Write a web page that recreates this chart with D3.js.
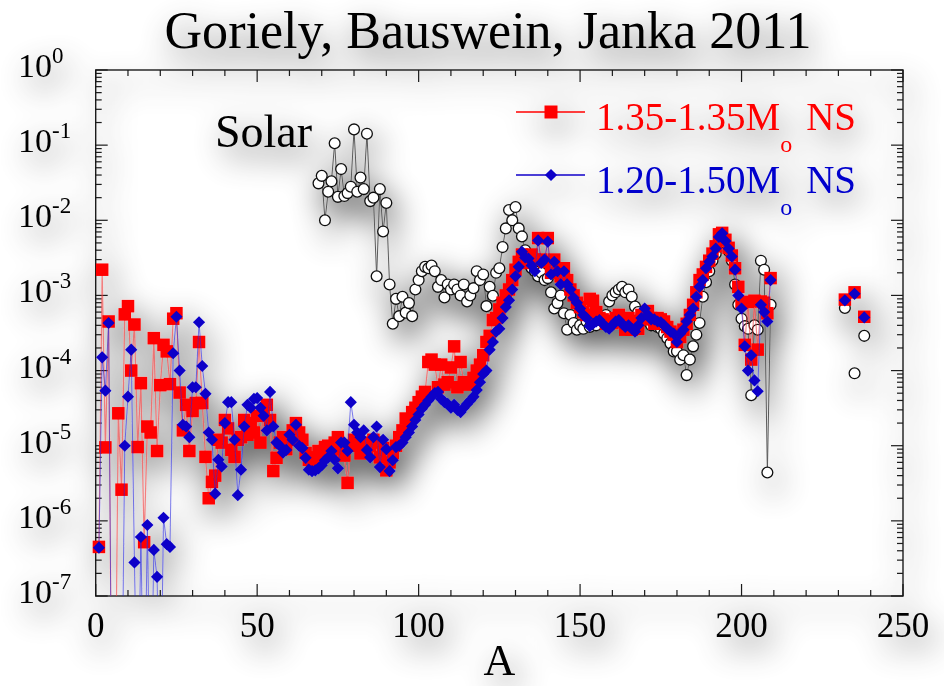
<!DOCTYPE html>
<html>
<head>
<meta charset="utf-8">
<script src="https://cdn.jsdelivr.net/npm/d3@7"></script>
<style>
  html, body { margin: 0; padding: 0; background: #ffffff; }
  svg { display: block; }
</style>
</head>
<body>
<svg id="chart" width="944" height="686"></svg>
<script>
// ---- data -----------------------------------------------------------------
// mass numbers of the two merger models: A = 1..209, then three heavy nuclei
const nsMassNumbers = [...d3.range(1, 210), 232, 235, 238];

// 1.35-1.35 Msun neutron-star merger (1e-9 marks yields below the plotted range)
const ns135 = [
  4.5e-7, 2.2e-3, 9.5e-6, 4.5e-4, 1e-9, 1e-9, 2.7e-5, 2.6e-6, 5.6e-4, 7.2e-4,     // 1-10
  1.0e-4, 4.1e-4, 9.6e-6, 6.8e-5, 5.2e-7, 1.8e-5, 1.5e-5, 2.7e-4, 8.5e-6, 6.4e-5, // 11-20
  2.2e-4, 1.8e-4, 6.6e-5, 4.9e-4, 5.8e-4, 5.1e-5, 1.6e-5, 3.5e-5, 8.5e-6, 2.9e-5, // 21-30
  3.7e-5, 2.4e-4, 3.7e-5, 7.1e-6, 2.0e-6, 3.3e-6, 4.0e-6, 1.2e-5, 1.1e-5, 2.2e-5, // 31-40
  1.7e-5, 8.8e-6, 7.1e-6, 1.2e-5, 1.3e-5, 2.2e-5, 1.4e-5, 2.0e-5, 1.5e-5, 2.5e-5, // 41-50
  1.1e-5, 2.8e-5, 3.5e-5, 2.2e-5, 4.6e-6, 6.9e-6, 1.1e-5, 1.3e-5, 9.0e-6, 1.2e-5, // 51-60
  1.6e-5, 2.0e-5, 1.5e-5, 1.2e-5, 8.0e-6, 6.5e-6, 6.1e-6, 7.0e-6, 8.5e-6, 7.5e-6, // 61-70
  9.6e-6, 1.0e-5, 8.0e-6, 1.1e-5, 1.3e-5, 9.0e-6, 7.4e-6, 3.2e-6, 1.0e-5, 1.2e-5, // 71-80
  1.0e-5, 7.9e-6, 1.1e-5, 9.0e-6, 1.0e-5, 1.2e-5, 1.1e-5, 7.0e-6, 9.3e-6, 4.7e-6, // 81-90
  6.0e-6, 8.0e-6, 1.0e-5, 1.3e-5, 1.6e-5, 2.3e-5, 2.2e-5, 2.8e-5, 3.2e-5, 3.8e-5, // 91-100
  4.5e-5, 5.2e-5, 1.3e-4, 1.4e-4, 1.2e-4, 6.0e-5, 1.2e-4, 6.5e-5, 7.0e-5, 1.1e-4, // 101-110
  2.1e-4, 6.0e-5, 1.3e-4, 7.0e-5, 6.5e-5, 7.0e-5, 8.0e-5, 1.0e-4, 1.2e-4, 1.6e-4, // 111-120
  2.4e-4, 2.9e-4, 4.7e-4, 5.0e-4, 6.5e-4, 8.0e-4, 1.0e-3, 1.2e-3, 1.6e-3, 2.2e-3, // 121-130
  2.8e-3, 3.5e-3, 3.0e-3, 2.7e-3, 3.5e-3, 3.0e-3, 5.8e-3, 3.0e-3, 2.8e-3, 5.8e-3, // 131-140
  2.0e-3, 3.0e-3, 2.2e-3, 1.8e-3, 2.3e-3, 1.6e-3, 1.2e-3, 1.0e-3, 8.0e-4, 7.0e-4, // 141-150
  6.0e-4, 5.5e-4, 9.0e-4, 8.5e-4, 6.0e-4, 5.0e-4, 4.8e-4, 4.2e-4, 4.6e-4, 4.3e-4, // 151-160
  5.0e-4, 5.5e-4, 4.5e-4, 3.5e-4, 5.0e-4, 3.5e-4, 4.5e-4, 3.6e-4, 5.5e-4, 4.8e-4, // 161-170
  6.2e-4, 5.0e-4, 4.2e-4, 5.0e-4, 4.8e-4, 4.5e-4, 3.8e-4, 3.3e-4, 3.0e-4, 2.4e-4, // 171-180
  2.8e-4, 3.5e-4, 4.2e-4, 5.5e-4, 7.5e-4, 1.1e-3, 1.6e-3, 1.9e-3, 2.4e-3, 2.9e-3, // 181-190
  3.6e-3, 4.5e-3, 6.5e-3, 6.8e-3, 5.5e-3, 4.3e-3, 3.4e-3, 2.3e-3, 1.3e-3, 8.0e-4, // 191-200
  2.2e-4, 8.2e-4, 1.4e-4, 8.5e-4, 1.9e-4, 8.3e-4, 8.0e-4, 5.8e-4, 1.7e-3,         // 201-209
  8.8e-4, 1.1e-3, 5.2e-4                                                          // 232, 235, 238
];

// 1.20-1.50 Msun neutron-star merger
const ns120 = [
  4.4e-7, 1.5e-4, 5.4e-5, 4.3e-4, 1e-9, 1e-9, 1e-9, 1e-9, 1.0e-5, 4.5e-5,         // 1-10
  1.9e-4, 2.8e-7, 1e-9, 6.1e-7, 1e-9, 8.8e-7, 1e-9, 4.1e-7, 1.8e-7, 1e-9,         // 11-20
  1.1e-6, 4.9e-7, 4.5e-7, 1.7e-4, 5.2e-4, 1.0e-4, 1.9e-5, 1.8e-5, 1.3e-5, 6.0e-5, // 21-30
  6.0e-5, 4.4e-4, 1.15e-4, 4.9e-5, 1.5e-5, 1.2e-5, 2.3e-6, 6.5e-6, 5.3e-6, 2.0e-5,// 31-40
  3.8e-5, 3.8e-5, 1.2e-5, 2.2e-6, 4.8e-6, 1.8e-5, 3.5e-5, 3.2e-5, 4.2e-5, 4.3e-5, // 41-50
  3.2e-5, 2.5e-5, 1.6e-5, 5.2e-5, 1.8e-5, 1.1e-5, 1.0e-5, 8.1e-6, 8.8e-6, 1.4e-5, // 51-60
  1.2e-5, 1.9e-5, 1.0e-5, 9.3e-6, 6.9e-6, 4.8e-6, 4.6e-6, 4.7e-6, 5.0e-6, 5.5e-6, // 61-70
  6.4e-6, 7.0e-6, 8.5e-6, 6.5e-6, 5.0e-6, 1.1e-5, 1.1e-5, 8.5e-6, 3.8e-5, 1.9e-5, // 71-80
  1.5e-5, 1.3e-5, 1.6e-5, 8.8e-6, 7.0e-6, 1.3e-5, 1.8e-5, 5.2e-6, 1.2e-5, 9.0e-6, // 81-90
  4.6e-6, 6.4e-6, 9.6e-6, 1.0e-5, 1.1e-5, 1.3e-5, 1.5e-5, 1.8e-5, 2.2e-5, 2.6e-5, // 91-100
  3.1e-5, 3.5e-5, 4.0e-5, 4.5e-5, 5.0e-5, 5.2e-5, 4.2e-5, 3.8e-5, 3.6e-5, 3.2e-5, // 101-110
  3.5e-5, 3.0e-5, 2.8e-5, 3.2e-5, 3.6e-5, 4.0e-5, 4.5e-5, 5.5e-5, 7.0e-5, 9.0e-5, // 111-120
  1.0e-4, 1.9e-4, 2.4e-4, 3.3e-4, 3.6e-4, 5.0e-4, 7.0e-4, 8.6e-4, 1.2e-3, 1.8e-3, // 121-130
  2.4e-3, 3.8e-3, 3.2e-3, 3.1e-3, 2.5e-3, 2.1e-3, 5.4e-3, 2.7e-3, 3.0e-3, 5.2e-3, // 131-140
  1.9e-3, 2.8e-3, 2.1e-3, 1.4e-3, 2.1e-3, 1.4e-3, 1.2e-3, 9.3e-4, 8.0e-4, 6.7e-4, // 141-150
  5.5e-4, 5.0e-4, 3.9e-4, 4.2e-4, 4.5e-4, 4.7e-4, 4.2e-4, 3.8e-4, 3.6e-4, 4.0e-4, // 151-160
  4.5e-4, 4.7e-4, 4.2e-4, 3.8e-4, 4.0e-4, 3.6e-4, 3.3e-4, 4.0e-4, 5.0e-4, 6.7e-4, // 161-170
  5.5e-4, 4.8e-4, 4.8e-4, 4.5e-4, 4.4e-4, 4.0e-4, 3.6e-4, 3.3e-4, 3.1e-4, 2.4e-4, // 171-180
  3.1e-4, 3.5e-4, 4.5e-4, 5.5e-4, 6.7e-4, 9.6e-4, 1.3e-3, 1.6e-3, 2.3e-3, 2.8e-3, // 181-190
  3.3e-3, 4.2e-3, 6.0e-3, 6.7e-3, 5.3e-3, 4.2e-3, 3.3e-3, 2.2e-3, 1.0e-3, 6.7e-4, // 191-200
  2.1e-4, 1.0e-4, 1.6e-4, 7.4e-5, 5.3e-5, 7.5e-4, 6.0e-4, 4.5e-4, 1.6e-3,         // 201-209
  8.6e-4, 1.05e-3, 5.1e-4                                                         // 232, 235, 238
];

// solar-system r-process abundances
const solarMassNumbers = [...d3.range(69, 210), 232, 235, 238];
const solar = [
  3.1e-2, 3.9e-2, 1.0e-2, 2.4e-2, 3.3e-2, 1.06e-1, 2.05e-2, 4.8e-2, 2.1e-2, 2.3e-2, // 69-78
  2.8e-2, 1.62e-1, 2.4e-2, 3.7e-2, 2.6e-2, 1.42e-1, 1.8e-2, 2.0e-2, 1.8e-3, 2.6e-2, // 79-88
  7.1e-3, 1.7e-2, 1.4e-3, 4.2e-4, 9.0e-4, 5.3e-4, 9.6e-4, 5.9e-4, 7.9e-4, 5.3e-4,   // 89-98
  1.2e-3, 1.6e-3, 2.1e-3, 2.4e-3, 2.3e-3, 2.5e-3, 2.1e-3, 1.3e-3, 1.6e-3, 9.4e-4,   // 99-108
  1.4e-3, 1.2e-3, 1.4e-3, 1.2e-3, 1.0e-3, 1.4e-3, 8.3e-4, 1.0e-3, 1.25e-3, 2.1e-3,  // 109-118
  1.6e-3, 1.9e-3, 7.2e-4, 1.3e-3, 9.9e-4, 2.0e-3, 2.3e-3, 4.4e-3, 7.8e-3, 1.37e-2,  // 119-128
  1.0e-2, 1.5e-2, 7.8e-3, 6.1e-3, 4.0e-3, 2.6e-3, 2.3e-3, 2.1e-3, 1.8e-3, 2.0e-3,   // 129-138
  1.6e-3, 1.7e-3, 1.1e-3, 6.7e-4, 7.9e-4, 1.0e-3, 5.8e-4, 3.5e-4, 5.5e-4, 4.3e-4,   // 139-148
  3.5e-4, 4.0e-4, 3.6e-4, 4.5e-4, 3.8e-4, 4.2e-4, 4.0e-4, 5.0e-4, 4.5e-4, 5.5e-4,   // 149-158
  8.3e-4, 1.0e-3, 1.1e-3, 1.2e-3, 1.3e-3, 1.1e-3, 1.2e-3, 9.6e-4, 7.1e-4, 6.0e-4,   // 159-168
  5.5e-4, 5.0e-4, 4.5e-4, 4.0e-4, 4.2e-4, 3.8e-4, 3.6e-4, 3.1e-4, 2.7e-4, 2.3e-4,   // 169-178
  1.8e-4, 1.8e-4, 1.4e-4, 1.6e-4, 8.7e-5, 1.4e-4, 2.1e-4, 3.0e-4, 4.3e-4, 9.6e-4,   // 179-188
  1.5e-3, 2.1e-3, 2.9e-3, 3.6e-3, 5.0e-3, 5.8e-3, 5.0e-3, 3.9e-3, 2.9e-3, 1.4e-3,   // 189-198
  7.5e-4, 4.9e-4, 3.9e-4, 3.6e-4, 4.7e-5, 4.0e-4, 3.5e-4, 2.9e-3, 2.2e-3, 4.4e-6, 7.5e-4, // 199-209
  6.8e-4, 9.2e-5, 2.9e-4                                                            // 232, 235, 238
];

const xTickLabels = [0, 50, 100, 150, 200, 250];
const yDecades = [-7, -6, -5, -4, -3, -2, -1, 0];

// ---- layout ---------------------------------------------------------------
const serif = "'Liberation Serif', 'Times New Roman', 'DejaVu Serif', serif";
const svg = d3.select("#chart");
const plot = { left: 95.7, right: 903, top: 70, bottom: 596 };

const x = d3.scaleLinear().domain([0, 250]).range([plot.left, plot.right]);
const y = d3.scaleLog().domain([1e-7, 1]).range([plot.bottom, plot.top]);

const defs = svg.append("defs");
defs.append("clipPath").attr("id", "plot-clip")
  .append("rect")
  .attr("x", plot.left).attr("y", plot.top)
  .attr("width", plot.right - plot.left).attr("height", plot.bottom - plot.top);

// soft drop shadow under everything drawn
const haze = defs.append("filter").attr("id", "haze")
  .attr("filterUnits", "userSpaceOnUse")
  .attr("x", -60).attr("y", -60).attr("width", 1070).attr("height", 810);
haze.append("feGaussianBlur").attr("in", "SourceAlpha").attr("stdDeviation", 16);
haze.append("feOffset").attr("dx", 6).attr("dy", 12).attr("result", "off");
haze.append("feComponentTransfer").call(ct =>
  ct.append("feFuncA").attr("type", "linear").attr("slope", 0.75));
const merge = haze.append("feMerge");
merge.append("feMergeNode");
merge.append("feMergeNode").attr("in", "SourceGraphic");

svg.append("rect").attr("width", 944).attr("height", 686).attr("fill", "#fff");
const root = svg.append("g").attr("filter", "url(#haze)");

// ---- title ----------------------------------------------------------------
root.append("text")
  .attr("x", 488).attr("y", 48)
  .attr("text-anchor", "middle")
  .attr("font-family", serif).attr("font-size", 52)
  .attr("textLength", 647).attr("lengthAdjust", "spacingAndGlyphs")
  .attr("fill", "#000")
  .text("Goriely, Bauswein, Janka 2011");

// ---- frame and ticks ------------------------------------------------------
const axisColor = "#1a1a1a";
const frame = root.append("g");
frame.append("rect")
  .attr("x", plot.left).attr("y", plot.top)
  .attr("width", plot.right - plot.left).attr("height", plot.bottom - plot.top)
  .attr("fill", "none").attr("stroke", axisColor).attr("stroke-width", 1.4);

const xTicks = d3.range(0, 251, 10);
xTicks.forEach(t => {
  const major = t % 50 === 0;
  const len = major ? 12 : 6;
  frame.append("line")
    .attr("x1", x(t)).attr("x2", x(t))
    .attr("y1", plot.bottom).attr("y2", plot.bottom - len)
    .attr("stroke", axisColor).attr("stroke-width", 1.2);
  frame.append("line")
    .attr("x1", x(t)).attr("x2", x(t))
    .attr("y1", plot.top).attr("y2", plot.top + len)
    .attr("stroke", axisColor).attr("stroke-width", 1.2);
});

y.ticks().forEach(t => {
  const lg = Math.log10(t);
  const major = Math.abs(lg - Math.round(lg)) < 1e-9;
  const len = major ? 12 : 6;
  frame.append("line")
    .attr("x1", plot.left).attr("x2", plot.left + len)
    .attr("y1", y(t)).attr("y2", y(t))
    .attr("stroke", axisColor).attr("stroke-width", 1.2);
  frame.append("line")
    .attr("x1", plot.right).attr("x2", plot.right - len)
    .attr("y1", y(t)).attr("y2", y(t))
    .attr("stroke", axisColor).attr("stroke-width", 1.2);
});

// tick labels
xTickLabels.forEach(v => {
  root.append("text")
    .attr("x", x(v)).attr("y", 637)
    .attr("text-anchor", "middle")
    .attr("font-family", serif).attr("font-size", 35)
    .attr("fill", "#000")
    .text(v);
});

yDecades.forEach(d => {
  const t = root.append("text")
    .attr("x", 18).attr("y", y(Math.pow(10, d)) + 7)
    .attr("font-family", serif).attr("font-size", 34)
    .attr("fill", "#000");
  t.append("tspan").text("10");
  t.append("tspan").attr("dy", -14).attr("font-size", 23)
    .text(d === 0 ? "0" : "-" + Math.abs(d));
});

// axis title
root.append("text")
  .attr("x", x(125)).attr("y", 675)
  .attr("text-anchor", "middle")
  .attr("font-family", serif).attr("font-size", 44)
  .attr("fill", "#000")
  .text("A");

// "Solar" annotation
root.append("text")
  .attr("x", 215).attr("y", 147)
  .attr("font-family", serif).attr("font-size", 46)
  .attr("fill", "#000")
  .text("Solar");

// ---- series ---------------------------------------------------------------
function toPoints(massNumbers, values) {
  return massNumbers.map((a, i) => ({ a, v: values[i] }));
}
// consecutive mass numbers are joined; gaps break the line
function segments(points) {
  const out = [];
  let cur = [];
  points.forEach((p, i) => {
    if (i > 0 && p.a - points[i - 1].a > 1) { out.push(cur); cur = []; }
    cur.push(p);
  });
  if (cur.length) out.push(cur);
  return out.filter(s => s.length > 1);
}
const inRange = p => p.v >= 1e-7 && p.v <= 1;
const line = d3.line().x(p => x(p.a)).y(p => y(Math.max(p.v, 1e-10)));

const solarPts = toPoints(solarMassNumbers, solar);
const redPts = toPoints(nsMassNumbers, ns135);
const bluePts = toPoints(nsMassNumbers, ns120);

const data = root.append("g");

function drawLines(points, color, width) {
  data.append("g").attr("clip-path", "url(#plot-clip)")
    .selectAll("path").data(segments(points)).join("path")
    .attr("d", line)
    .attr("fill", "none")
    .attr("stroke", color).attr("stroke-width", width)
    .attr("stroke-linejoin", "round");
}

// solar: open circles on a thin grey line
drawLines(solarPts, "#5a5a5a", 1);
data.append("g").selectAll("circle").data(solarPts.filter(inRange)).join("circle")
  .attr("cx", p => x(p.a)).attr("cy", p => y(p.v)).attr("r", 5.4)
  .attr("fill", "#fff").attr("stroke", "#111").attr("stroke-width", 1.3);

// 1.35-1.35: red squares
const redColor = "#ff0000";
drawLines(redPts, "rgba(240,60,60,0.6)", 1.2);
const sq = 12.5;
data.append("g").selectAll("rect").data(redPts.filter(inRange)).join("rect")
  .attr("x", p => x(p.a) - sq / 2).attr("y", p => y(p.v) - sq / 2)
  .attr("width", sq).attr("height", sq)
  .attr("fill", redColor);

// 1.20-1.50: blue diamonds
const blueColor = "#0a00c8";
drawLines(bluePts, "rgba(40,40,220,0.6)", 1);
const diamond = d3.symbol().type(d3.symbolSquare).size(8.6 * 8.6);
data.append("g").selectAll("path").data(bluePts.filter(inRange)).join("path")
  .attr("d", diamond)
  .attr("transform", p => `translate(${x(p.a)},${y(p.v)}) rotate(45)`)
  .attr("fill", blueColor);

// ---- legend ---------------------------------------------------------------
const legend = root.append("g");
const legendRows = [
  { y: 112, label: "1.35-1.35M", color: redColor, text: "#ff0000", marker: "square" },
  { y: 175, label: "1.20-1.50M", color: blueColor, text: "#0000cc", marker: "diamond" }
];
legendRows.forEach(r => {
  legend.append("line")
    .attr("x1", 516).attr("x2", 585).attr("y1", r.y).attr("y2", r.y)
    .attr("stroke", r.color).attr("stroke-width", 1.3);
  if (r.marker === "square") {
    legend.append("rect")
      .attr("x", 551 - 6.5).attr("y", r.y - 6.5).attr("width", 13).attr("height", 13)
      .attr("fill", r.color);
  } else {
    legend.append("path").attr("d", diamond)
      .attr("transform", `translate(551,${r.y}) rotate(45)`)
      .attr("fill", r.color);
  }
  const t = legend.append("text")
    .attr("x", 596).attr("y", r.y + 18)
    .attr("font-family", serif).attr("font-size", 39)
    .attr("fill", r.text);
  t.append("tspan").text(r.label);
  t.append("tspan").attr("dy", 22).attr("font-size", 24).text("o");
  t.append("tspan").attr("dy", -22).attr("dx", 14).text("NS");
});
</script>
</body>
</html>
